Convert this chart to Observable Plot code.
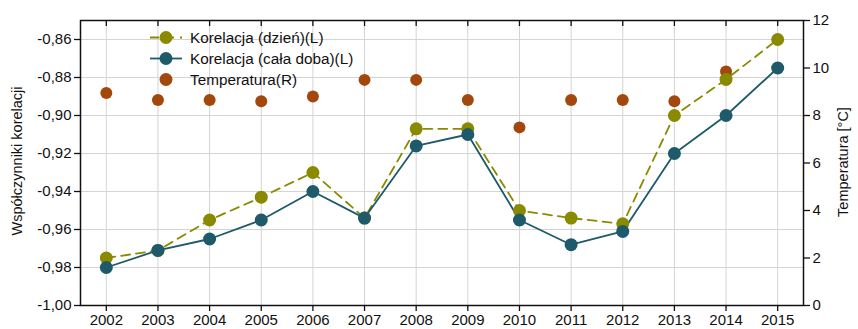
<!DOCTYPE html>
<html>
<head>
<meta charset="utf-8">
<script src="https://cdn.jsdelivr.net/npm/d3@7"></script>
<script src="https://cdn.jsdelivr.net/npm/@observablehq/plot@0.6"></script>
<style>
  html, body { margin: 0; padding: 0; background: #fff; }
  #wrap { position: relative; width: 858px; height: 329px; font-family: "Liberation Sans", Arial, sans-serif; }
  #legend { position: absolute; left: 148px; top: 27px; font-size: 15.3px; color: #111; }
  .row { display: flex; align-items: center; height: 21px; }
  .row svg { margin-right: 6px; }
</style>
</head>
<body>
<div id="wrap"><div id="chart"></div><div id="legend"></div></div>
<script>
const years = [2002, 2003, 2004, 2005, 2006, 2007, 2008, 2009, 2010, 2011, 2012, 2013, 2014, 2015];
const korelacjaDzien = [-0.975, -0.971, -0.955, -0.943, -0.930, -0.954, -0.907, -0.907, -0.950, -0.954, -0.957, -0.900, -0.881, -0.860];
const korelacjaDoba = [-0.980, -0.971, -0.965, -0.955, -0.940, -0.954, -0.916, -0.910, -0.955, -0.968, -0.961, -0.920, -0.900, -0.875];
const temperatura = [8.95, 8.65, 8.65, 8.6, 8.8, 9.5, 9.5, 8.65, 7.5, 8.65, 8.65, 8.6, 9.85, 10.0];
const leftTicks = [-1.00, -0.98, -0.96, -0.94, -0.92, -0.90, -0.88, -0.86];
const rightTicks = [0, 2, 4, 6, 8, 10, 12];
const leftDomain = [-1.00, -0.85];
const rightDomain = [0, 12];

const colDzien = "#8a8a00";
const colDoba = "#1e5a6a";
const colTemp = "#a3480c";

// map temperature (right axis) onto the left axis scale
const t2c = t => leftDomain[0] + (t - rightDomain[0]) * (leftDomain[1] - leftDomain[0]) / (rightDomain[1] - rightDomain[0]);
const c2t = c => rightDomain[0] + (c - leftDomain[0]) * (rightDomain[1] - rightDomain[0]) / (leftDomain[1] - leftDomain[0]);

const dzien = years.map((y, i) => ({year: y, v: korelacjaDzien[i]}));
const doba = years.map((y, i) => ({year: y, v: korelacjaDoba[i]}));
const temp = years.map((y, i) => ({year: y, v: t2c(temperatura[i])}));

const fmt = d => d.toFixed(2).replace(".", ",");

const chart = Plot.plot({
  width: 858,
  height: 329,
  marginLeft: 80,
  marginRight: 55,
  marginTop: 20,
  marginBottom: 24,
  style: {fontFamily: "Liberation Sans, Arial, sans-serif", fontSize: "15px", color: "#111", background: "#fff"},
  x: {domain: [2001.5, 2015.5]},
  y: {domain: leftDomain},
  marks: [
    Plot.gridX(years, {stroke: "#d4d4d4", strokeOpacity: 1, strokeWidth: 1}),
    Plot.gridY(leftTicks, {stroke: "#d4d4d4", strokeOpacity: 1, strokeWidth: 1}),
    Plot.axisX({ticks: years, tickFormat: d => String(d), tickSize: 6, tickPadding: 3, label: null, fontSize: 15, strokeWidth: 1.3}),
    Plot.axisX({anchor: "top", ticks: years, tickFormat: () => "", tickSize: -5, label: null, strokeWidth: 1.3}),
    Plot.axisY({ticks: leftTicks, tickFormat: fmt, tickSize: 6, tickPadding: 3, label: null, fontSize: 15, strokeWidth: 1.3}),
    Plot.axisY({anchor: "right", ticks: rightTicks.map(t2c), tickFormat: d => String(Math.round(c2t(d))), tickSize: 6, tickPadding: 3, label: null, fontSize: 15, strokeWidth: 1.3}),
    Plot.frame({stroke: "#111", strokeWidth: 1.5}),
    Plot.line(dzien, {x: "year", y: "v", stroke: colDzien, strokeWidth: 1.8, strokeDasharray: "9,6"}),
    Plot.line(doba, {x: "year", y: "v", stroke: colDoba, strokeWidth: 1.8}),
    Plot.dot(temp, {x: "year", y: "v", r: 6, fill: colTemp, stroke: "none"}),
    Plot.dot(dzien, {x: "year", y: "v", r: 6.5, fill: colDzien, stroke: "none"}),
    Plot.dot(doba, {x: "year", y: "v", r: 6.5, fill: colDoba, stroke: "none"})
  ]
});
document.getElementById("chart").appendChild(chart);

// axis titles
const svg = d3.select(chart);
svg.append("text")
  .attr("transform", "translate(22,161) rotate(-90)")
  .attr("text-anchor", "middle")
  .attr("font-size", 14.5)
  .attr("fill", "#111")
  .text("Współczynniki korelacji");
svg.append("text")
  .attr("transform", "translate(848,162) rotate(-90)")
  .attr("text-anchor", "middle")
  .attr("font-size", 14.5)
  .attr("fill", "#111")
  .text("Temperatura [°C]");

// legend
const legendItems = [
  {label: "Korelacja (dzień)(L)", color: colDzien, line: "dash"},
  {label: "Korelacja (cała doba)(L)", color: colDoba, line: "solid"},
  {label: "Temperatura(R)", color: colTemp, line: null}
];
const leg = d3.select("#legend");
legendItems.forEach(it => {
  const row = leg.append("div").attr("class", "row");
  const s = row.append("svg").attr("width", 36).attr("height", 21);
  if (it.line) {
    s.append("line").attr("x1", 2).attr("x2", 34).attr("y1", 10.5).attr("y2", 10.5)
      .attr("stroke", it.color).attr("stroke-width", 1.8)
      .attr("stroke-dasharray", it.line === "dash" ? "9,6" : null);
  }
  s.append("circle").attr("cx", 18).attr("cy", 10.5).attr("r", 6.5).attr("fill", it.color);
  row.append("span").text(it.label);
});
</script>
</body>
</html>
